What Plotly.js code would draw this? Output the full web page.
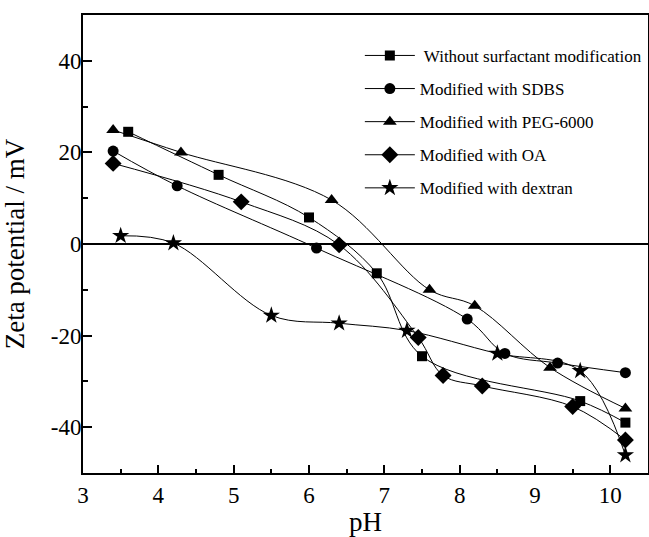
<!DOCTYPE html>
<html>
<head>
<meta charset="utf-8">
<script src="https://cdn.plot.ly/plotly-3.0.1.min.js"></script>
<style>
  html, body { margin: 0; padding: 0; background: #fff; }
  #chart { width: 649px; height: 537px; }
</style>
</head>
<body>
<div id="chart"></div>
<script>
// Zeta potential of particles vs. pH for different surface modifications
const seriesNames = [
  " Without surfactant modification",
  "Modified with SDBS",
  "Modified with PEG-6000",
  "Modified with OA",
  "Modified with dextran"
];

const phBare = [3.6, 4.8, 6.0, 6.9, 7.5, 9.6, 10.2];
const zetaBare = [24.5, 15.1, 5.8, -6.4, -24.5, -34.3, -39.0];

const phSDBS = [3.4, 4.25, 6.1, 8.1, 8.6, 9.3, 10.2];
const zetaSDBS = [20.3, 12.7, -0.9, -16.4, -23.9, -26.0, -28.1];

const phPEG = [3.4, 4.3, 6.3, 7.6, 8.2, 9.2, 10.2];
const zetaPEG = [24.9, 20.0, 9.6, -10.0, -13.5, -27.0, -35.9];

const phOA = [3.4, 5.1, 6.4, 7.45, 7.78, 8.3, 9.5, 10.2];
const zetaOA = [17.6, 9.2, -0.2, -20.4, -28.7, -31.0, -35.5, -42.8];

const phDextran = [3.5, 4.2, 5.5, 6.4, 7.3, 8.5, 9.6, 10.2];
const zetaDextran = [1.8, 0.2, -15.6, -17.3, -18.9, -23.9, -27.7, -46.1];

const xTickVals = [3, 4, 5, 6, 7, 8, 9, 10];
const xTickText = ["3", "4", "5", "6", "7", "8", "9", "10"];
const yTickVals = [-40, -20, 0, 20, 40];
const yTickText = ["-40", "-20", "0", "20", "40"];

const serif = "Liberation Serif, Times New Roman, serif";

function series(name, xs, ys, symbol, size, idx) {
  return {
    type: "scatter",
    mode: "lines+markers",
    name: name,
    legendgroup: "g" + idx,
    x: xs,
    y: ys,
    line: { color: "#000", width: 1, shape: "spline", smoothing: 1 },
    marker: { symbol: symbol, size: size, color: "#000" }
  };
}

const traces = [
  series(seriesNames[0], phBare, zetaBare, "square", 10, 0),
  series(seriesNames[1], phSDBS, zetaSDBS, "circle", 11, 1),
  series(seriesNames[2], phPEG, zetaPEG, "triangle-up", 12, 2),
  series(seriesNames[3], phOA, zetaOA, "diamond", 13, 3),
  series(seriesNames[4], phDextran, zetaDextran, "star", 13, 4)
];

const layout = {
  width: 649,
  height: 537,
  margin: { l: 83, r: 1, t: 15, b: 64 },
  paper_bgcolor: "#fff",
  plot_bgcolor: "#fff",
  font: { family: serif, color: "#000", size: 22 },
  showlegend: true,
  legend: {
    x: 0.49, y: 0.95, xanchor: "left", yanchor: "top",
    bgcolor: "rgba(0,0,0,0)",
    font: { family: serif, size: 17, color: "#000" },
    traceorder: "grouped",
    tracegroupgap: 8,
    itemwidth: 50
  },
  xaxis: {
    range: [3, 10.5],
    tickvals: xTickVals,
    ticktext: xTickText,
    ticks: "inside",
    ticklen: 8,
    tickwidth: 2,
    tickcolor: "#000",
    minor: { dtick: 0.5, ticks: "inside", ticklen: 4, tickwidth: 2, tickcolor: "#000" },
    showline: true,
    linewidth: 2,
    linecolor: "#000",
    mirror: true,
    showgrid: false,
    zeroline: false,
    tickfont: { family: serif, size: 23 },
    title: { text: "pH", font: { family: serif, size: 27 } }
  },
  yaxis: {
    range: [-50, 50],
    tickvals: yTickVals,
    ticktext: yTickText,
    ticks: "inside",
    ticklen: 9,
    tickwidth: 2,
    tickcolor: "#000",
    minor: { dtick: 10, ticks: "inside", ticklen: 5, tickwidth: 2, tickcolor: "#000" },
    showline: true,
    linewidth: 2,
    linecolor: "#000",
    mirror: true,
    showgrid: false,
    zeroline: true,
    zerolinecolor: "#000",
    zerolinewidth: 1.5,
    tickfont: { family: serif, size: 23 },
    ticklabelstandoff: -5,
    title: { text: "Zeta potential / mV", font: { family: serif, size: 27 } }
  }
};

Plotly.newPlot("chart", traces, layout, { displayModeBar: false, staticPlot: true });
</script>
</body>
</html>
